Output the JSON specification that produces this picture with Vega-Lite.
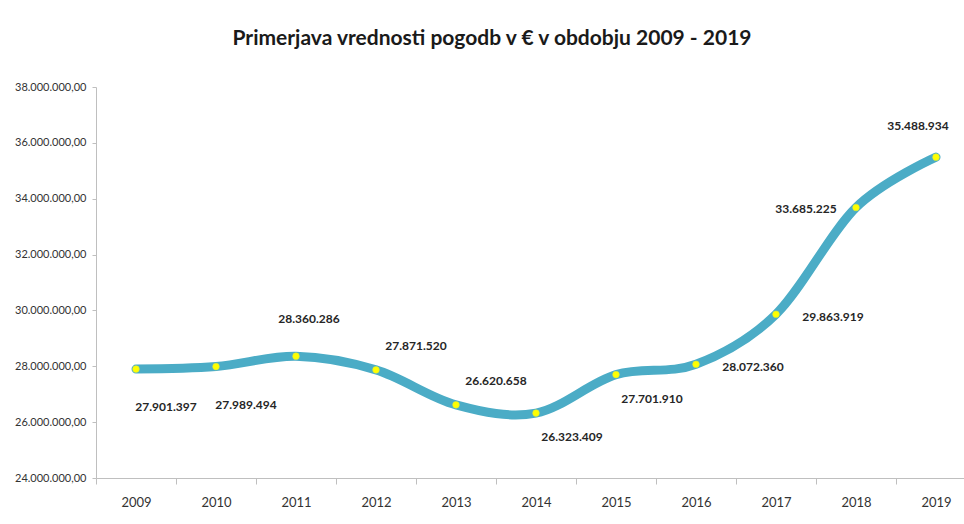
{
  "$schema": "https://vega.github.io/schema/vega-lite/v6.json",
  "autosize": "none",
  "width": 868,
  "height": 391,
  "padding": {"left": 96, "top": 87, "right": 0, "bottom": 46},
  "background": "white",
  "config": {
    "view": {"stroke": null},
    "font": "Lato",
    "locale": {"number": {"decimal": ",", "thousands": ".", "grouping": [3], "currency": ["", " €"]}}
  },
  "title": {
    "text": "Primerjava vrednosti pogodb v € v obdobju 2009 - 2019",
    "font": "Lato",
    "fontSize": 21,
    "fontWeight": "bold",
    "color": "#1a1a1a",
    "anchor": "middle",
    "dx": -38,
    "offset": 32
  },
  "data": {"values": [
    {"year": 2009, "value": 27901397},
    {"year": 2010, "value": 27989494},
    {"year": 2011, "value": 28360286},
    {"year": 2012, "value": 27871520},
    {"year": 2013, "value": 26620658},
    {"year": 2014, "value": 26323409},
    {"year": 2015, "value": 27701910},
    {"year": 2016, "value": 28072360},
    {"year": 2017, "value": 29863919},
    {"year": 2018, "value": 33685225},
    {"year": 2019, "value": 35488934}
  ]},
  "encoding": {
    "x": {"field": "year", "type": "quantitative",
      "scale": {"domain": [2008.5, 2019.35], "nice": false, "zero": false},
      "axis": {"title": null, "values": [2009,2010,2011,2012,2013,2014,2015,2016,2017,2018,2019], "format": "d",
        "grid": false, "tickOffset": -40, "labelOffset": 40, "labelFlush": false,
        "domainColor": "#bfbfbf", "tickColor": "#bfbfbf", "tickSize": 6, "labelPadding": 12,
        "labelFontSize": 13, "labelColor": "#333333", "labelFont": "Lato"}},
    "y": {"field": "value", "type": "quantitative",
      "scale": {"domain": [24000000, 38000000], "nice": false, "zero": false},
      "axis": {"title": null, "values": [24000000,26000000,28000000,30000000,32000000,34000000,36000000,38000000],
        "format": ",.2f", "grid": false, "domainColor": "#bfbfbf", "tickColor": "#bfbfbf", "tickSize": 4,
        "labelPadding": 6, "labelFontSize": 11, "labelColor": "#333333", "labelFont": "Lato"}}
  },
  "layer": [
    {"mark": {"type": "line", "interpolate": "cardinal", "stroke": "#4BACC6", "strokeWidth": 9, "strokeCap": "round"}},
    {"mark": {"type": "point", "filled": true, "fill": "#FFFF00", "size": 45, "stroke": "#d8e840", "strokeWidth": 0.5, "opacity": 1}},
    {"transform": [{"filter": "datum.year == 2009 || datum.year == 2010"}],
     "mark": {"type": "text", "dx": 30, "dy": 38, "fontSize": 12, "fontWeight": "bold", "color": "#262626"},
     "encoding": {"text": {"field": "value", "type": "quantitative", "format": ",d"}}},
    {"transform": [{"filter": "datum.year == 2011"}],
     "mark": {"type": "text", "dx": 13, "dy": -37, "fontSize": 12, "fontWeight": "bold", "color": "#262626"},
     "encoding": {"text": {"field": "value", "type": "quantitative", "format": ",d"}}},
    {"transform": [{"filter": "datum.year == 2012 || datum.year == 2013"}],
     "mark": {"type": "text", "dx": 40, "dy": -24, "fontSize": 12, "fontWeight": "bold", "color": "#262626"},
     "encoding": {"text": {"field": "value", "type": "quantitative", "format": ",d"}}},
    {"transform": [{"filter": "datum.year == 2014 || datum.year == 2015"}],
     "mark": {"type": "text", "dx": 36, "dy": 24, "fontSize": 12, "fontWeight": "bold", "color": "#262626"},
     "encoding": {"text": {"field": "value", "type": "quantitative", "format": ",d"}}},
    {"transform": [{"filter": "datum.year == 2016 || datum.year == 2017"}],
     "mark": {"type": "text", "dx": 57, "dy": 3, "fontSize": 12, "fontWeight": "bold", "color": "#262626"},
     "encoding": {"text": {"field": "value", "type": "quantitative", "format": ",d"}}},
    {"transform": [{"filter": "datum.year == 2018"}],
     "mark": {"type": "text", "dx": -50, "dy": 1, "fontSize": 12, "fontWeight": "bold", "color": "#262626"},
     "encoding": {"text": {"field": "value", "type": "quantitative", "format": ",d"}}},
    {"transform": [{"filter": "datum.year == 2019"}],
     "mark": {"type": "text", "dx": -18, "dy": -31, "fontSize": 12, "fontWeight": "bold", "color": "#262626"},
     "encoding": {"text": {"field": "value", "type": "quantitative", "format": ",d"}}}
  ]
}
